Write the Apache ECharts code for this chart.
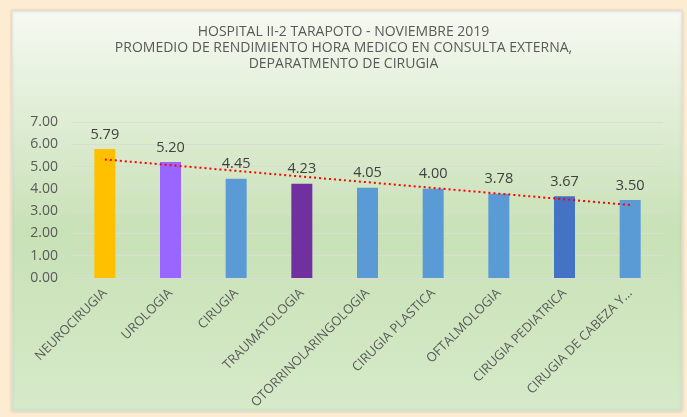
<!DOCTYPE html>
<html lang="es">
<head>
    <meta charset="UTF-8">
    <title>Rendimiento hora medico</title>
    <script src="https://cdn.jsdelivr.net/npm/echarts@6/dist/echarts.min.js"></script>
    <style>
        html, body { margin: 0; padding: 0; background: #FDEBD2; }
        #main { width: 687px; height: 417px; }
    </style>
</head>
<body>
    <div id="main"></div>
    <script type="text/javascript">
        // datos
        const especialidades = ['NEUROCIRUGIA', 'UROLOGIA', 'CIRUGIA', 'TRAUMATOLOGIA', 'OTORRINOLARINGOLOGIA',
            'CIRUGIA PLASTICA', 'OFTALMOLOGIA', 'CIRUGIA PEDIATRICA', 'CIRUGIA DE CABEZA Y CUELLO'];
        const rendimiento = [5.79, 5.20, 4.45, 4.23, 4.05, 4.00, 3.78, 3.67, 3.50];
        const colores = ['#FFC000', '#9966FF', '#5B9BD5', '#7030A0', '#5B9BD5', '#5B9BD5', '#5B9BD5', '#4472C4', '#5B9BD5'];
        const yTicks = [0, 1, 2, 3, 4, 5, 6, 7];

        // linea de tendencia lineal (minimos cuadrados)
        const n = rendimiento.length;
        const mx = (n - 1) / 2;
        const my = rendimiento.reduce((a, b) => a + b, 0) / n;
        let num = 0, den = 0;
        rendimiento.forEach((v, i) => { num += (i - mx) * (v - my); den += (i - mx) * (i - mx); });
        const pend = num / den;
        const tendencia = rendimiento.map((v, i) => +(my + pend * (i - mx)).toFixed(4));

        const chart = echarts.init(document.getElementById('main'));
        const option = {
            backgroundColor: '#FDEBD2',
            animation: false,
            graphic: [{
                type: 'rect',
                z: -10,
                shape: { x: 12, y: 11, width: 670, height: 400 },
                style: {
                    fill: new echarts.graphic.LinearGradient(0, 0, 0, 1, [
                        { offset: 0, color: '#F6F9F2' },
                        { offset: 0.55, color: '#C8E1B6' },
                        { offset: 1, color: '#D6EAC9' }
                    ]),
                    stroke: '#E3E3DA',
                    lineWidth: 1,
                    shadowBlur: 3,
                    shadowColor: 'rgba(0,0,0,0.15)'
                }
            }],
            title: {
                text: 'HOSPITAL II-2 TARAPOTO - NOVIEMBRE 2019\nPROMEDIO DE RENDIMIENTO HORA MEDICO EN CONSULTA EXTERNA,\nDEPARATMENTO DE CIRUGIA',
                left: 'center',
                top: 19,
                textStyle: {
                    fontFamily: 'Open Sans',
                    fontSize: 14,
                    fontWeight: 'normal',
                    color: '#595959',
                    lineHeight: 16
                }
            },
            grid: {
                left: 72,
                right: 24,
                top: 122,
                bottom: 139
            },
            xAxis: {
                type: 'category',
                data: especialidades,
                axisTick: { show: false },
                axisLine: { lineStyle: { color: '#D9DDD3' } },
                axisLabel: {
                    rotate: 45,
                    interval: 0,
                    margin: 13,
                    fontFamily: 'Open Sans',
                    fontSize: 13,
                    color: '#595959',
                    formatter: function (v) {
                        return v.length > 20 ? v.slice(0, 19) + '...' : v;
                    }
                }
            },
            yAxis: {
                type: 'value',
                min: 0,
                max: 7,
                interval: 1,
                axisLabel: {
                    margin: 14,
                    fontFamily: 'Open Sans',
                    fontSize: 14,
                    color: '#595959',
                    formatter: function (v) { return yTicks.indexOf(v) >= 0 ? v.toFixed(2) : ''; }
                },
                splitLine: { lineStyle: { color: '#D9DDD3' } }
            },
            series: [{
                type: 'bar',
                data: rendimiento.map((v, i) => ({ value: v, itemStyle: { color: colores[i] } })),
                barWidth: 21,
                label: {
                    show: true,
                    position: 'top',
                    distance: 7,
                    fontFamily: 'Open Sans',
                    fontSize: 14.5,
                    color: '#404040',
                    formatter: p => p.value.toFixed(2)
                }
            }, {
                type: 'line',
                data: tendencia,
                symbol: 'none',
                z: 5,
                lineStyle: { color: '#FF0000', width: 2, type: [2, 3] }
            }]
        };
        chart.setOption(option);
    </script>
</body>
</html>
